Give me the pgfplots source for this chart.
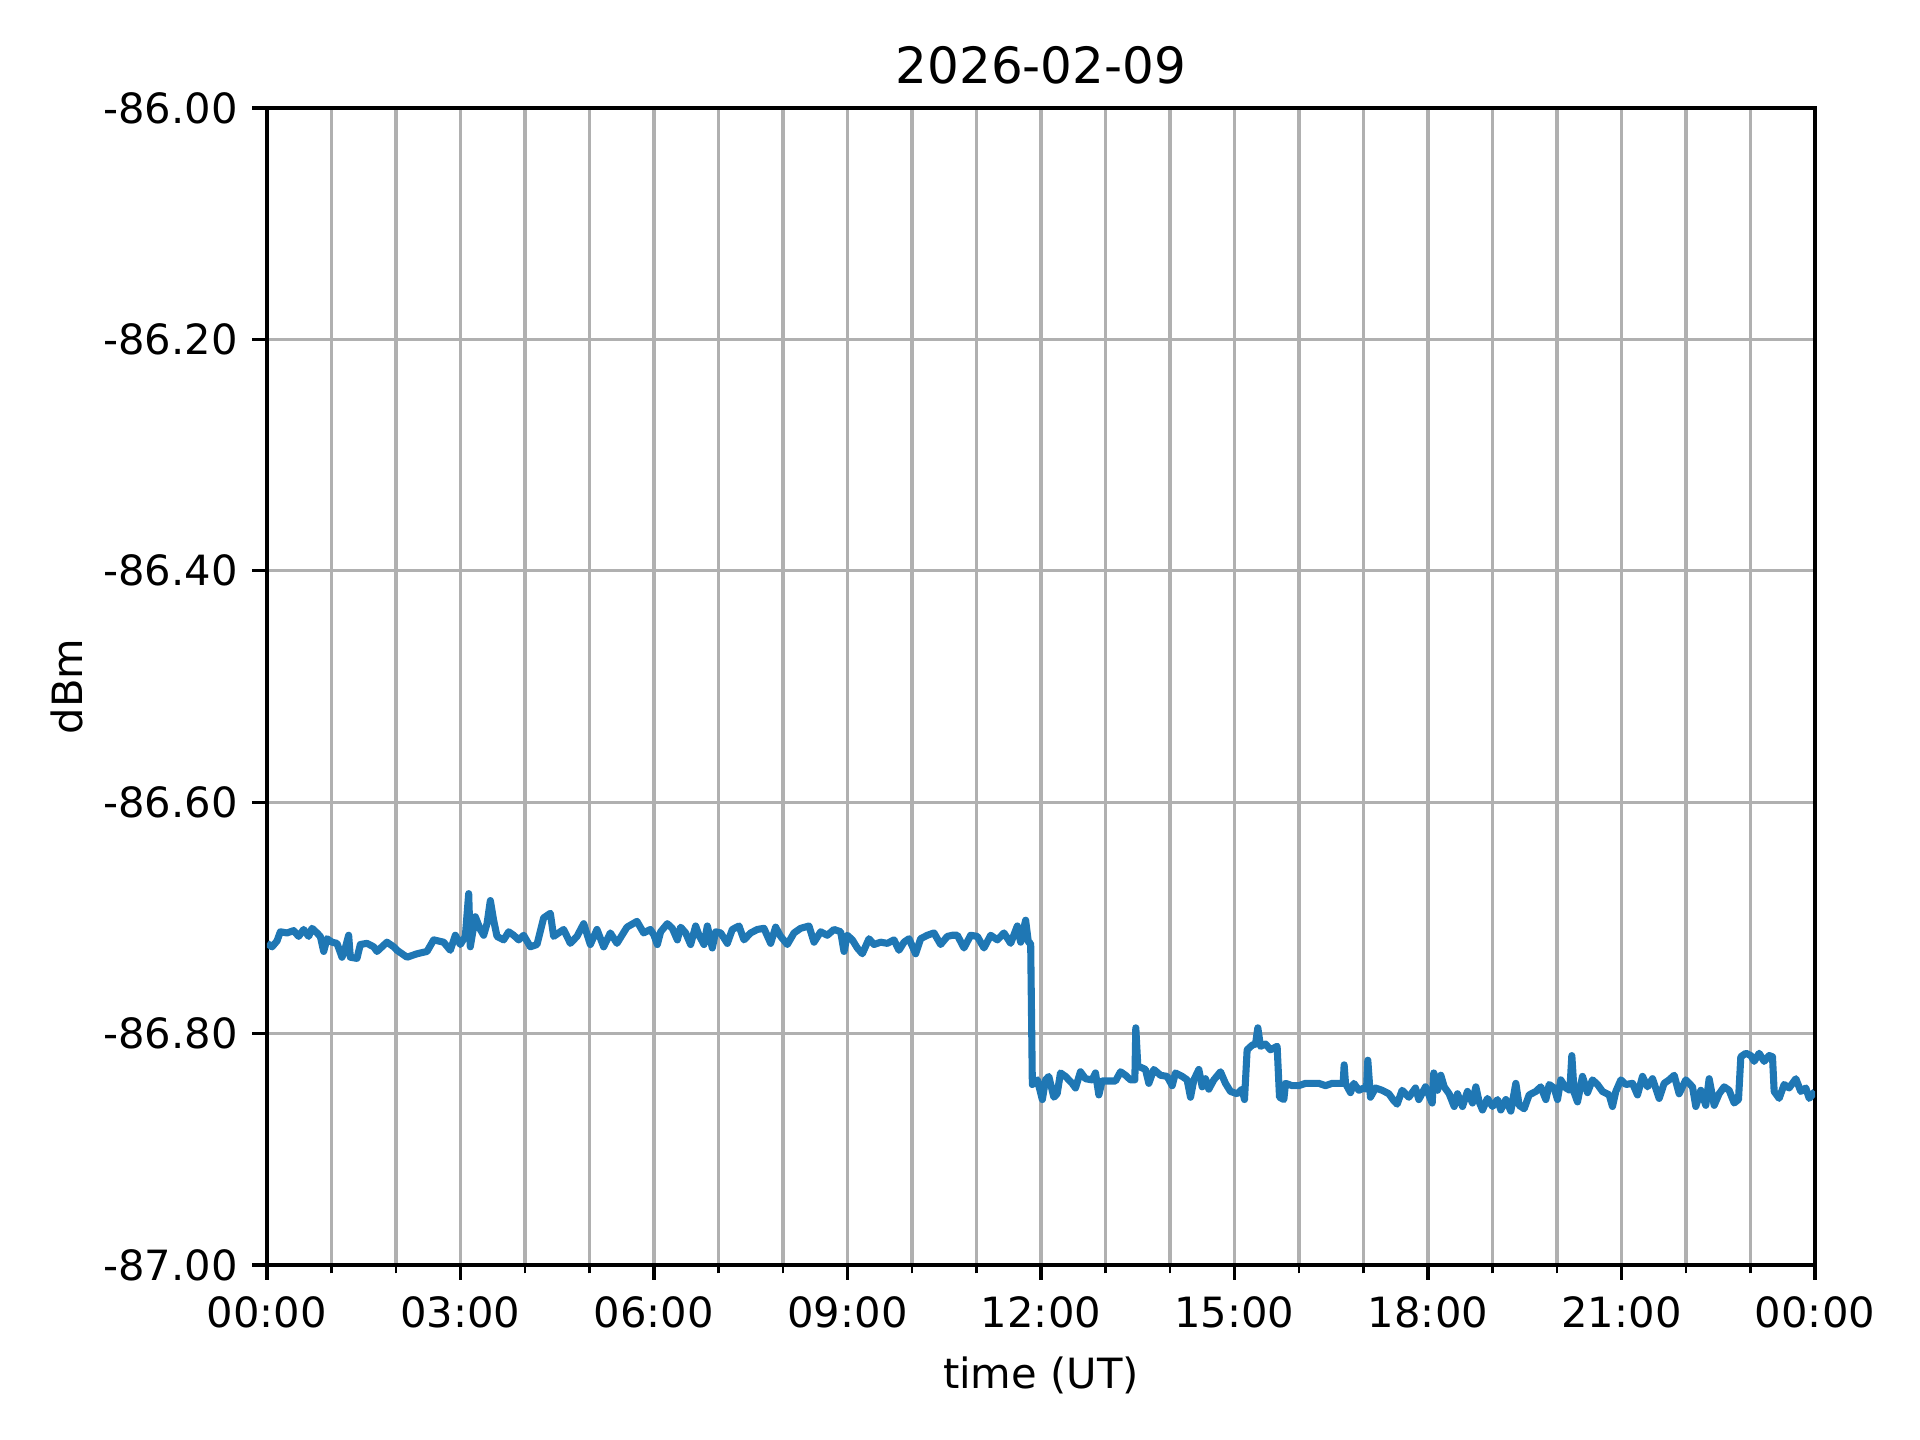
\documentclass[border=0pt]{standalone}
\usepackage{pgfplots}
\usepackage{pgfplotstable}
\pgfplotsset{compat=1.18}
\usepackage{fontspec}
\setmainfont{DejaVu Sans}
\definecolor{mplblue}{HTML}{1F77B4}
\definecolor{gridgray}{HTML}{B0B0B0}
\pgfplotstableread{
t v
0.000 -86.722
0.078 -86.725
0.155 -86.720
0.207 -86.712
0.310 -86.713
0.413 -86.711
0.491 -86.716
0.568 -86.710
0.646 -86.716
0.698 -86.709
0.775 -86.713
0.827 -86.716
0.879 -86.729
0.930 -86.718
1.008 -86.721
1.085 -86.722
1.163 -86.734
1.214 -86.726
1.266 -86.715
1.292 -86.734
1.395 -86.735
1.447 -86.723
1.550 -86.722
1.654 -86.725
1.705 -86.729
1.860 -86.721
1.964 -86.725
2.016 -86.728
2.171 -86.734
2.326 -86.731
2.481 -86.729
2.584 -86.719
2.739 -86.721
2.842 -86.728
2.920 -86.715
2.997 -86.723
3.075 -86.716
3.127 -86.679
3.152 -86.725
3.230 -86.699
3.307 -86.710
3.359 -86.715
3.411 -86.705
3.463 -86.685
3.514 -86.702
3.566 -86.716
3.669 -86.719
3.747 -86.712
3.824 -86.715
3.902 -86.719
3.979 -86.715
4.083 -86.725
4.186 -86.723
4.289 -86.700
4.393 -86.696
4.444 -86.716
4.548 -86.712
4.599 -86.710
4.703 -86.722
4.806 -86.716
4.910 -86.705
5.013 -86.723
5.116 -86.710
5.220 -86.725
5.323 -86.713
5.426 -86.722
5.581 -86.708
5.736 -86.703
5.840 -86.713
5.943 -86.710
6.000 -86.715
6.052 -86.723
6.103 -86.712
6.207 -86.705
6.284 -86.709
6.362 -86.719
6.413 -86.708
6.491 -86.713
6.568 -86.723
6.646 -86.707
6.698 -86.715
6.775 -86.723
6.827 -86.707
6.904 -86.726
6.956 -86.712
7.034 -86.713
7.137 -86.722
7.214 -86.710
7.318 -86.707
7.395 -86.719
7.499 -86.713
7.602 -86.710
7.705 -86.709
7.809 -86.722
7.886 -86.708
7.964 -86.716
8.067 -86.723
8.171 -86.713
8.274 -86.709
8.403 -86.707
8.481 -86.721
8.584 -86.712
8.687 -86.715
8.791 -86.710
8.894 -86.712
8.946 -86.729
8.997 -86.715
9.075 -86.719
9.152 -86.726
9.230 -86.731
9.333 -86.718
9.411 -86.723
9.514 -86.721
9.618 -86.722
9.721 -86.719
9.798 -86.728
9.876 -86.721
9.953 -86.718
10.057 -86.731
10.134 -86.718
10.238 -86.715
10.341 -86.713
10.444 -86.723
10.548 -86.716
10.625 -86.715
10.703 -86.715
10.806 -86.726
10.910 -86.715
11.013 -86.716
11.116 -86.726
11.220 -86.715
11.323 -86.719
11.426 -86.713
11.530 -86.722
11.633 -86.707
11.685 -86.721
11.762 -86.702
11.804 -86.721
11.840 -86.722
11.866 -86.844
11.943 -86.840
12.021 -86.857
12.070 -86.840
12.121 -86.837
12.199 -86.855
12.251 -86.852
12.302 -86.834
12.380 -86.837
12.483 -86.843
12.535 -86.847
12.612 -86.833
12.690 -86.839
12.793 -86.840
12.845 -86.834
12.897 -86.853
12.948 -86.841
13.052 -86.841
13.155 -86.841
13.233 -86.833
13.310 -86.836
13.388 -86.840
13.455 -86.840
13.470 -86.795
13.501 -86.828
13.620 -86.831
13.672 -86.843
13.749 -86.831
13.853 -86.836
13.956 -86.837
14.034 -86.845
14.085 -86.834
14.189 -86.837
14.266 -86.840
14.318 -86.855
14.370 -86.840
14.447 -86.831
14.499 -86.846
14.550 -86.839
14.602 -86.848
14.680 -86.840
14.783 -86.833
14.860 -86.843
14.938 -86.850
15.041 -86.852
15.119 -86.848
15.155 -86.857
15.196 -86.814
15.274 -86.810
15.326 -86.809
15.362 -86.795
15.403 -86.811
15.481 -86.809
15.558 -86.814
15.661 -86.811
15.698 -86.855
15.765 -86.857
15.791 -86.843
15.894 -86.845
15.997 -86.845
16.101 -86.843
16.204 -86.843
16.307 -86.843
16.411 -86.845
16.514 -86.843
16.618 -86.843
16.685 -86.843
16.700 -86.827
16.721 -86.843
16.798 -86.851
16.850 -86.843
16.928 -86.849
17.005 -86.847
17.047 -86.848
17.067 -86.823
17.108 -86.855
17.186 -86.847
17.289 -86.849
17.393 -86.852
17.470 -86.858
17.522 -86.861
17.599 -86.849
17.703 -86.855
17.806 -86.847
17.858 -86.857
17.961 -86.846
18.065 -86.860
18.090 -86.834
18.147 -86.849
18.199 -86.836
18.251 -86.846
18.328 -86.852
18.406 -86.863
18.457 -86.852
18.535 -86.863
18.612 -86.850
18.690 -86.860
18.742 -86.846
18.793 -86.859
18.845 -86.866
18.922 -86.856
19.000 -86.863
19.078 -86.857
19.129 -86.866
19.207 -86.857
19.284 -86.867
19.362 -86.843
19.413 -86.862
19.491 -86.865
19.568 -86.853
19.672 -86.850
19.749 -86.846
19.827 -86.857
19.879 -86.844
19.956 -86.847
20.008 -86.857
20.059 -86.840
20.137 -86.847
20.199 -86.849
20.230 -86.819
20.266 -86.851
20.318 -86.859
20.395 -86.837
20.473 -86.851
20.550 -86.840
20.628 -86.844
20.705 -86.850
20.809 -86.853
20.860 -86.863
20.912 -86.850
20.990 -86.840
21.067 -86.844
21.171 -86.843
21.248 -86.853
21.326 -86.837
21.403 -86.846
21.481 -86.839
21.584 -86.856
21.661 -86.843
21.739 -86.840
21.817 -86.836
21.894 -86.852
21.997 -86.840
22.101 -86.846
22.152 -86.863
22.230 -86.849
22.307 -86.862
22.359 -86.839
22.437 -86.862
22.514 -86.852
22.592 -86.846
22.669 -86.849
22.747 -86.860
22.814 -86.857
22.850 -86.820
22.928 -86.817
23.005 -86.819
23.057 -86.824
23.134 -86.817
23.212 -86.824
23.289 -86.819
23.341 -86.820
23.367 -86.850
23.444 -86.856
23.522 -86.844
23.599 -86.847
23.703 -86.839
23.780 -86.850
23.858 -86.847
23.910 -86.856
24.000 -86.850
}\datatable
\begin{document}
\begin{tikzpicture}
\begin{axis}[
  at={(0,0)}, anchor=south west,
  scale only axis,
  width=371.52pt, height=277.68pt,
  xmin=0, xmax=24, ymin=-87, ymax=-86,
  xtick={0,3,6,9,12,15,18,21,24},
  xticklabels={00:00,03:00,06:00,09:00,12:00,15:00,18:00,21:00,00:00},
  minor xtick={1,2,4,5,7,8,10,11,13,14,16,17,19,20,22,23},
  ytick={-87,-86.8,-86.6,-86.4,-86.2,-86},
  yticklabels={-87.00,-86.80,-86.60,-86.40,-86.20,-86.00},
  xmajorgrids=true, xminorgrids=true, ymajorgrids=true,
  grid style={draw=gridgray, line width=0.8pt},
  minor grid style={draw=gridgray, line width=0.8pt},
  tick align=outside,
  major tick length=3.5pt, minor tick length=2pt,
  every tick/.style={black, line width=0.8pt},
  minor tick style={black, line width=0.6pt},
  axis line style={line width=0.8pt},
  xtick pos=bottom, ytick pos=left,
  tick label style={font=\fontsize{10}{12}\selectfont},
  xticklabel style={yshift=-0.5pt},
  title={2026-02-09},
  title style={font=\fontsize{12}{14}\selectfont, yshift=-3.8pt},
  xlabel={time (UT)},
  ylabel={dBm},
  label style={font=\fontsize{10}{12}\selectfont},
  xlabel style={yshift=0pt},
  ylabel style={yshift=-2pt},
  axis on top=false,
]
\addplot[mplblue, line width=1.7pt, line join=round] table[x=t,y=v] {\datatable};
\end{axis}
\path[use as bounding box] (-64.08pt,-42pt) rectangle (396.72pt,303.6pt);
\end{tikzpicture}
\end{document}
